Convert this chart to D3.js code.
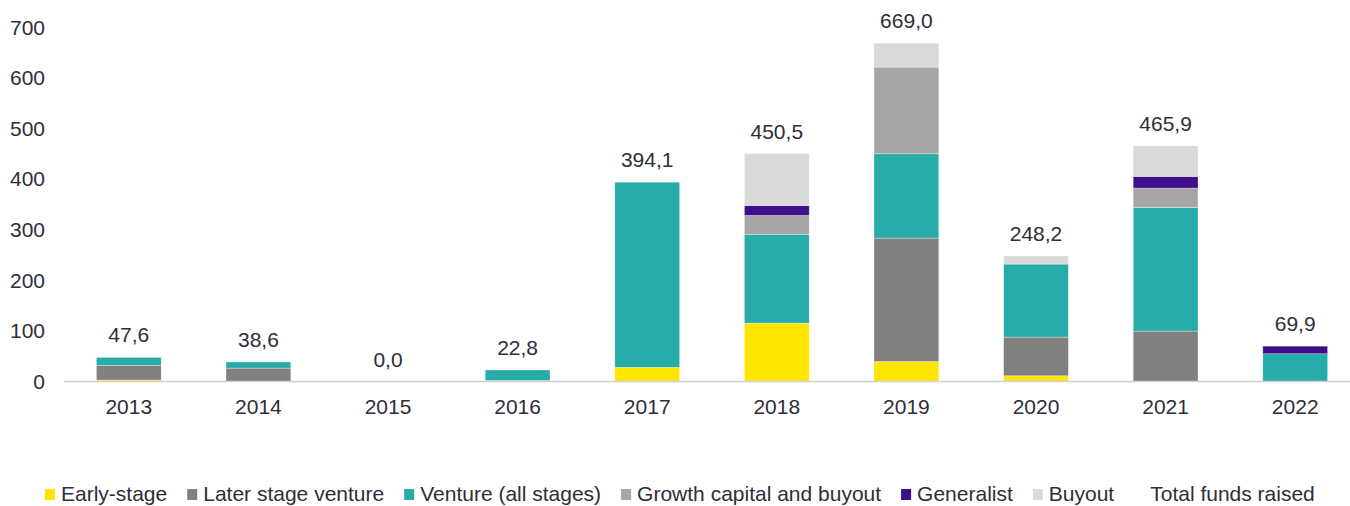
<!DOCTYPE html>
<html>
<head>
<meta charset="utf-8">
<script src="https://cdn.jsdelivr.net/npm/d3@7"></script>
<style>
  body { margin: 0; background: #fff; }
  text { font-family: "Liberation Sans", Arial, sans-serif; fill: #2e2e38; }
</style>
</head>
<body>
<div class="svgContainer"></div>
<script>
let years = ["2013", "2014", "2015", "2016", "2017", "2018", "2019", "2020", "2021", "2022"];
let yTicks = [0, 100, 200, 300, 400, 500, 600, 700];

let earlyStage = [3.0, 0, 0, 2.0, 28.0, 115.5, 39.5, 11.3, 0, 0];
let laterStage = [29.0, 26.5, 0, 0, 0, 0, 244.1, 76.5, 99.7, 0];
let ventureAll = [15.6, 12.1, 0, 20.8, 366.1, 175.2, 166.7, 144.4, 244.4, 54.8];
let growthBuyout = [0, 0, 0, 0, 0, 37.6, 171.4, 0, 38.3, 0];
let generalist = [0, 0, 0, 0, 0, 19.7, 0, 0, 23.0, 15.1];
let buyout = [0, 0, 0, 0, 0, 102.5, 47.3, 16.0, 60.5, 0];
let totalRaised = [47.6, 38.6, 0.0, 22.8, 394.1, 450.5, 669.0, 248.2, 465.9, 69.9];

let seriesNames = ["Early-stage", "Later stage venture", "Venture (all stages)",
  "Growth capital and buyout", "Generalist", "Buyout"];
let seriesColors = ["#ffe600", "#808080", "#27acaa", "#a6a6a6", "#3d108a", "#d9d9d9"];

let width = 1350,
  height = 506,
  fontSize = 21;

let svg = d3
  .select(".svgContainer")
  .append("svg")
  .attr("width", width)
  .attr("height", height);

// build rows for the stack
let seriesData = [earlyStage, laterStage, ventureAll, growthBuyout, generalist, buyout];
let rows = years.map((yr, i) => {
  let row = { year: yr };
  seriesNames.forEach((name, s) => (row[name] = seriesData[s][i]));
  return row;
});
let stacked = d3.stack().keys(seriesNames)(rows);

let xScale = d3
  .scaleBand()
  .domain(years)
  .range([64, 1360])
  .paddingInner(0.5)
  .paddingOuter(0.25);

let yScale = d3
  .scaleLinear()
  .domain([0, 700])
  .range([381.5, 27.5]);

// y axis, labels only
let yAxisGroup = svg
  .append("g")
  .attr("transform", "translate(64, 0)")
  .call(d3.axisLeft(yScale).tickValues(yTicks).tickSize(0).tickPadding(19).tickFormat(d3.format("d")));
yAxisGroup.select(".domain").remove();
yAxisGroup.selectAll("text").style("font-size", fontSize + "px").style("font-family", null).attr("fill", null);

// bars
svg
  .append("g")
  .selectAll("g")
  .data(stacked)
  .enter()
  .append("g")
  .attr("fill", (d, i) => seriesColors[i])
  .selectAll("rect")
  .data(d => d)
  .enter()
  .append("rect")
  .attr("x", d => xScale(d.data.year))
  .attr("y", d => yScale(d[1]))
  .attr("width", xScale.bandwidth())
  .attr("height", d => yScale(d[0]) - yScale(d[1]))
  .attr("stroke", "#ffffff")
  .attr("stroke-opacity", 0.5)
  .attr("stroke-width", 0.6);

// x axis
let xAxisGroup = svg
  .append("g")
  .attr("transform", "translate(0, " + yScale(0) + ")")
  .call(d3.axisBottom(xScale).tickSize(0).tickPadding(18));
xAxisGroup.select(".domain").remove();
xAxisGroup.selectAll("text").style("font-size", fontSize + "px").style("font-family", null).attr("fill", null);

svg
  .append("line")
  .attr("x1", 64)
  .attr("x2", 1360)
  .attr("y1", yScale(0))
  .attr("y2", yScale(0))
  .attr("stroke", "#d0d0d0")
  .attr("stroke-width", 1.5);

// total labels
let commaFmt = v => d3.format(".1f")(v).replace(".", ",");
svg
  .append("g")
  .selectAll("text")
  .data(totalRaised)
  .enter()
  .append("text")
  .attr("x", (d, i) => xScale(years[i]) + xScale.bandwidth() / 2)
  .attr("y", d => yScale(d) - 15)
  .attr("text-anchor", "middle")
  .style("font-size", fontSize + "px")
  .text(d => commaFmt(d));

// legend, laid out left to right (kept just inside the bottom edge)
let legendNames = seriesNames.concat(["Total funds raised"]);
let legendColors = seriesColors.concat(["none"]);
let legend = svg.append("g");
let lx = 45;
legendNames.forEach((name, i) => {
  legend
    .append("rect")
    .attr("x", lx)
    .attr("y", 489)
    .attr("width", 10)
    .attr("height", 11)
    .attr("fill", legendColors[i]);
  let t = legend
    .append("text")
    .attr("x", lx + 16)
    .attr("y", 501)
    .style("font-size", fontSize + "px")
    .text(name);
  lx += 16 + t.node().getComputedTextLength() + 20;
});
</script>
</body>
</html>
